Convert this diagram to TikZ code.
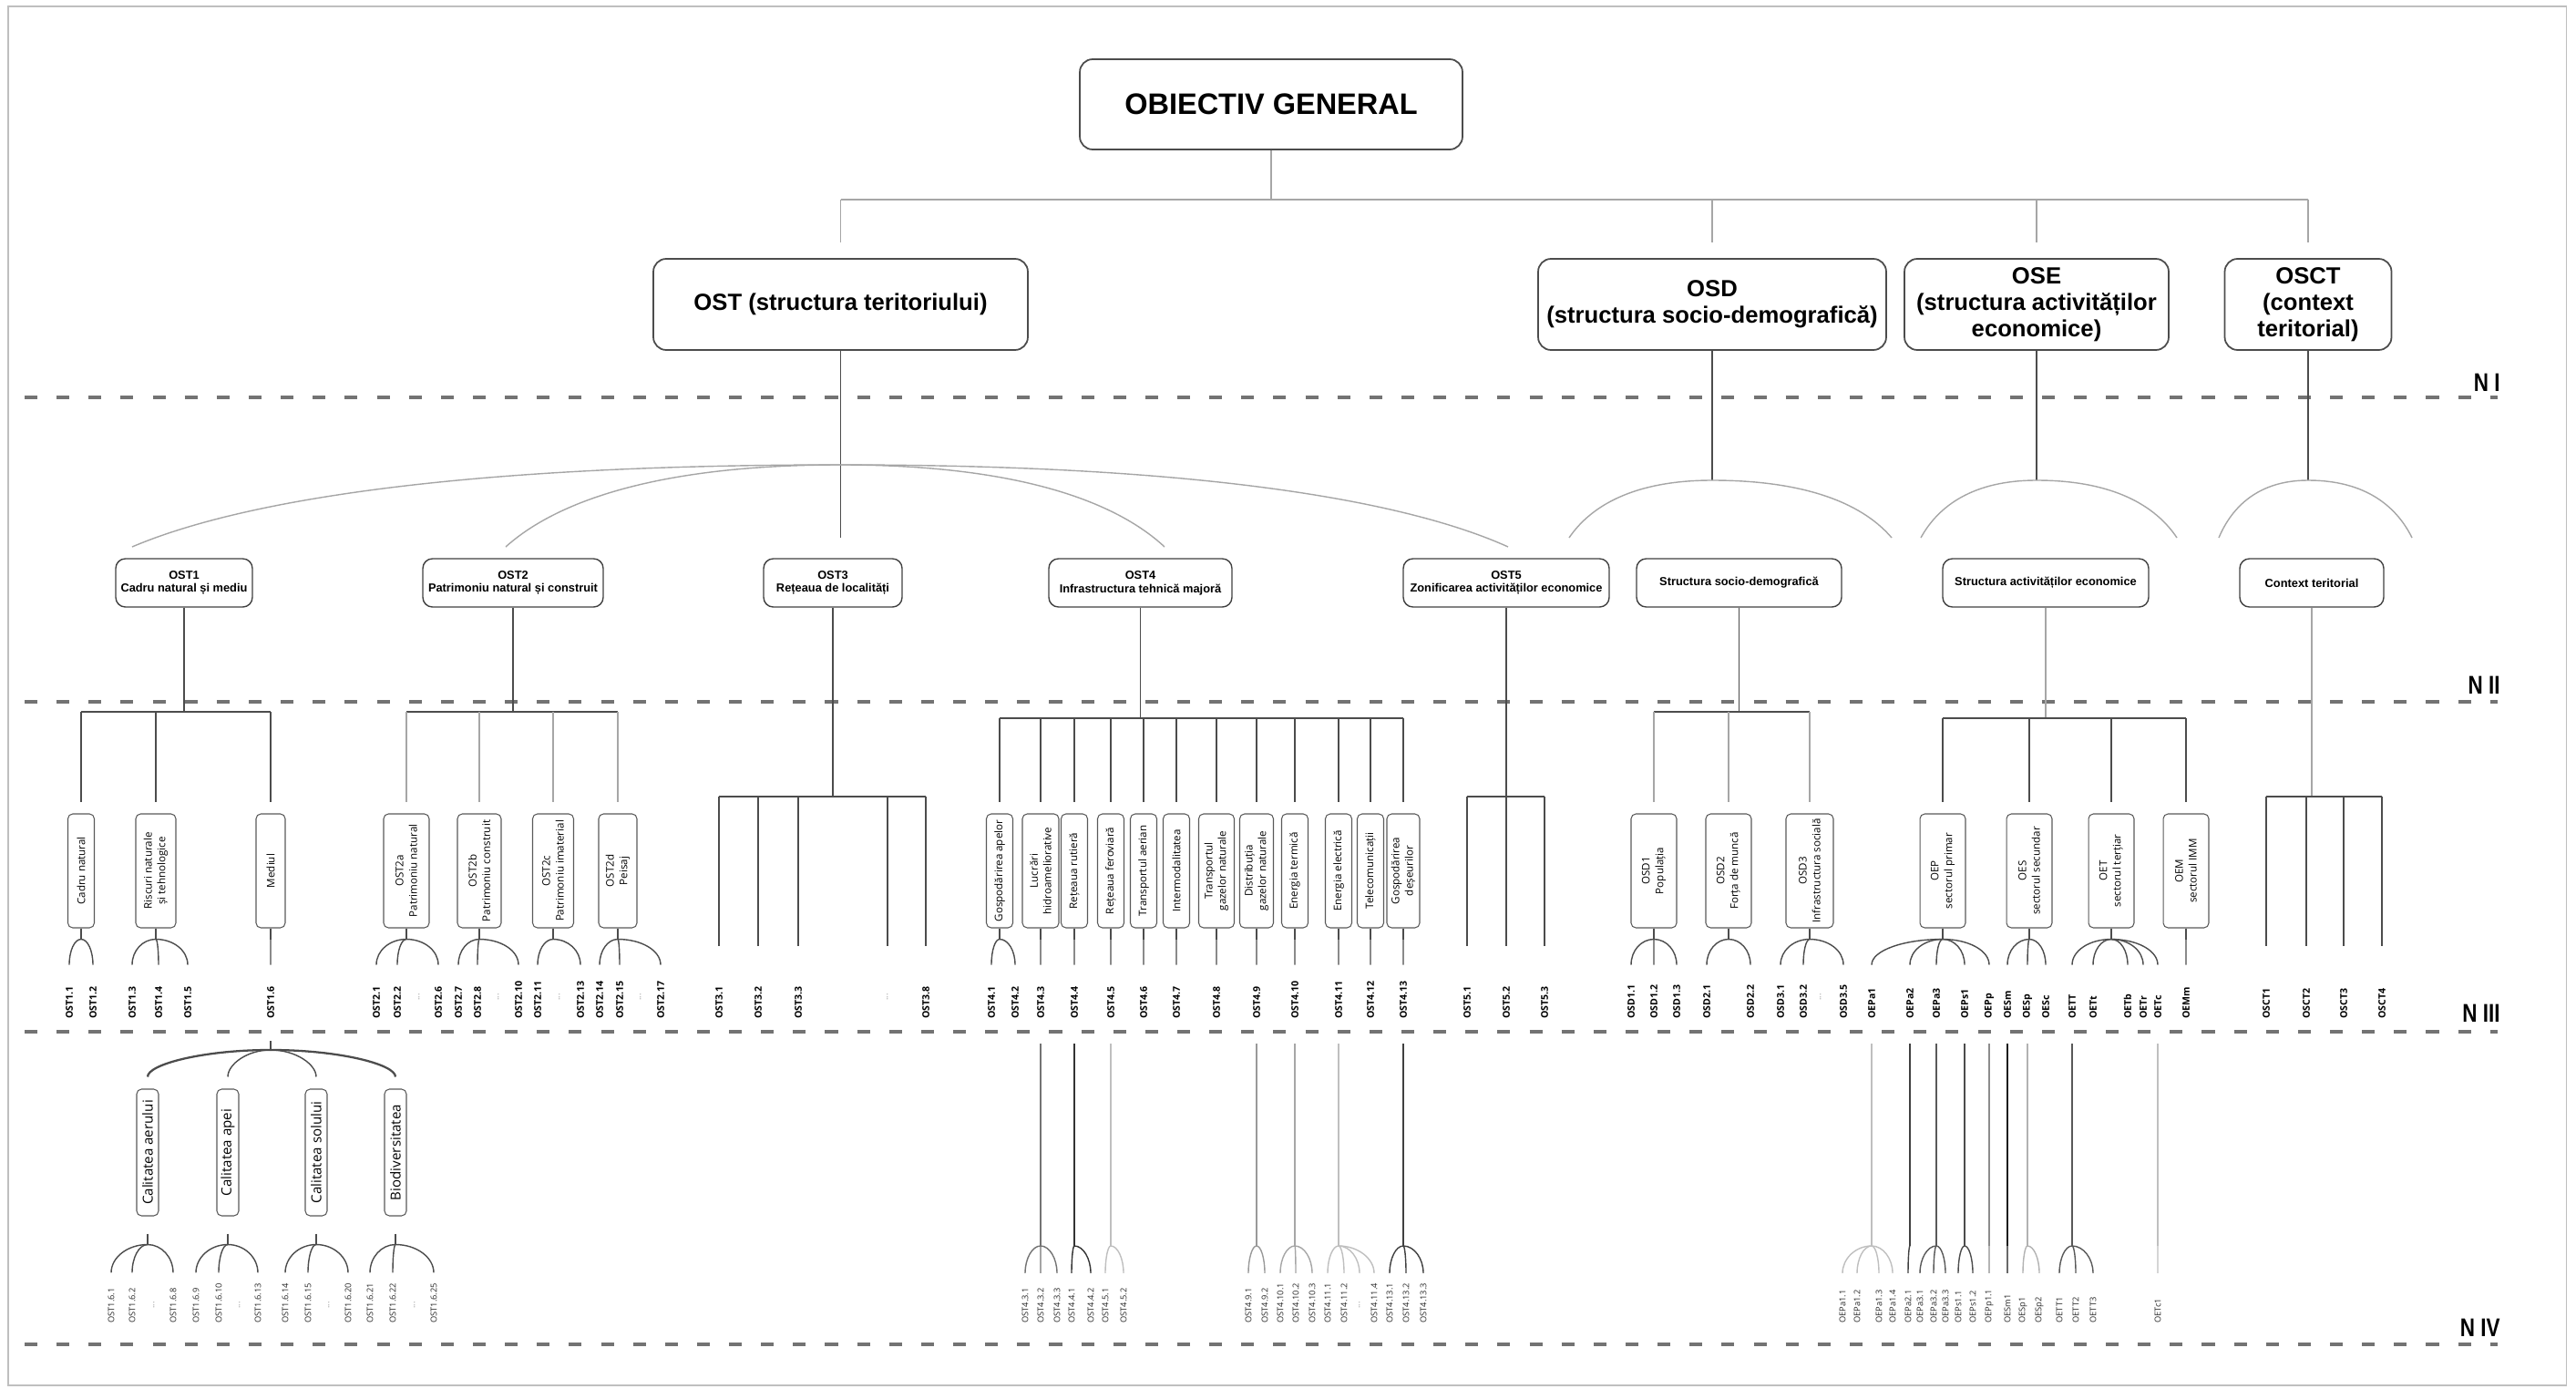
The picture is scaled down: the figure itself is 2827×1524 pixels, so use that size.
\documentclass[tikz,border=0pt]{standalone}
\usepackage{fontspec}
\setmainfont{Open Sans}
\newfontfamily\arialf{Liberation Sans}
\newfontfamily\narrowf[FakeStretch=0.8]{Liberation Sans}
\usetikzlibrary{calc}
\begin{document}
\begin{tikzpicture}[x=0.02cm,y=0.02cm,
  link/.style={draw=black!70,line width=0.8pt},
  faint/.style={draw=black!35,line width=0.8pt},
  levline/.style={draw=black!55,line width=2.3pt,dash pattern=on 8pt off 12pt},
  ogbox/.style={draw=black!70,line width=1pt,rounded corners=8pt,minimum width=8.4cm,minimum height=1.98cm,font=\arialf\bfseries\fontsize{18.5}{21}\selectfont},
  onebox/.style={draw=black!70,line width=1pt,rounded corners=8pt,align=center,inner sep=1pt,minimum height=2cm,font=\arialf\bfseries\fontsize{14.6}{16.5}\selectfont},
  twobox/.style={draw=black!75,line width=0.8pt,rounded corners=6pt,align=center,inner sep=1pt,minimum height=1.06cm,font=\arialf\bfseries\fontsize{7.3}{8.5}\selectfont},
  threebox/.style={draw=black!65,line width=0.6pt,rounded corners=3pt,rotate=90,align=center,inner sep=1pt,minimum width=2.5cm,minimum height=0.58cm,font=\fontsize{6.6}{8.5}\selectfont},
  fourbox/.style={draw=black!65,line width=0.6pt,rounded corners=3pt,rotate=90,inner sep=1pt,minimum width=2.78cm,minimum height=0.48cm,font=\fontsize{8.6}{10}\selectfont},
  labthree/.style={rotate=90,anchor=west,inner sep=0pt,font=\bfseries\fontsize{6}{7}\selectfont},
  labfour/.style={rotate=90,anchor=west,inner sep=0pt,text=black!85,font=\fontsize{5.3}{6}\selectfont},
  dotlab/.style={rotate=90,anchor=west,inner sep=0pt,text=black!50,font=\fontsize{5}{6}\selectfont},
  levlab/.style={anchor=east,inner sep=0pt,font=\narrowf\bfseries\fontsize{16}{18}\selectfont}]
\useasboundingbox (0,0) rectangle (2827,-1524);
\draw[draw=black!25,line width=0.6pt] (9,-7) rectangle (2816,-1520);
% levels
\draw[levline] (27,-436) -- (2741,-436);
\draw[levline] (27,-770) -- (2741,-770);
\draw[levline] (27,-1132) -- (2741,-1132);
\draw[levline] (27,-1475) -- (2741,-1475);
\node[levlab] (n1) at (2744,-420) {N I};
\node[levlab] (n2) at (2744,-752) {N II};
\node[levlab] (n3) at (2744,-1112) {N III};
\node[levlab] (n4) at (2744,-1457) {N IV};
\coordinate (ytop) at (0,-219);
\coordinate (yarc) at (0,-510);
\coordinate (ycap) at (0,-590);
\coordinate (ydome) at (0,-527);
\coordinate (ybara) at (0,-781);
\coordinate (ybarb) at (0,-788);
\coordinate (ybarc) at (0,-874);
\coordinate (yend) at (0,-1038);
% general objective and level I
\node[ogbox] (og) at (1395,-114.5) {OBIECTIV GENERAL};
\node[onebox,minimum width=8.22cm] (ost) at (922.5,-334) {OST (structura teritoriului)};
\node[onebox,minimum width=7.64cm] (osd) at (1879,-334) {OSD\\(structura socio-demografică)};
\node[onebox,minimum width=5.8cm] (ose) at (2235,-334) {OSE\\(structura activităților\\economice)};
\node[onebox,minimum width=3.66cm] (osct) at (2533,-334) {OSCT\\(context\\teritorial)};
\draw[faint] (og.south) -- (og.south |- ytop);
\draw[faint] (ost.north |- ytop) -- (osct.north |- ytop);
\foreach \bx in {ost,osd,ose,osct} \draw[faint] (\bx.north |- ytop) -- ([yshift=10pt]\bx.north);
% level II
\node[twobox,minimum width=3cm] (ost1) at (202,-639.5) {OST1\\Cadru natural și mediu};
\node[twobox,minimum width=3.96cm] (ost2) at (563,-639.5) {OST2\\Patrimoniu natural și construit};
\node[twobox,minimum width=3.04cm] (ost3) at (914,-639.5) {OST3\\Rețeaua de localități};
\node[twobox,minimum width=4.02cm] (ost4) at (1251.5,-639.5) {OST4\\Infrastructura tehnică majoră};
\node[twobox,minimum width=4.52cm] (ost5) at (1653,-639.5) {OST5\\Zonificarea activităților economice};
\node[twobox,minimum width=4.5cm] (ssd) at (1908.5,-639.5) {Structura socio-demografică};
\node[twobox,minimum width=4.52cm] (sae) at (2245,-639.5) {Structura activităților economice};
\node[twobox,minimum width=3.16cm] (ctx) at (2537,-639.5) {Context teritorial};
\draw[link] (ost.south) -- (ost.south |- ycap);
\coordinate (t-ost) at (ost.south |- yarc);
\foreach \bx in {osd,ose,osct} \draw[link] (\bx.south) -- (\bx.south |- ydome) coordinate (t-\bx);
\coordinate (a1) at (145,-600);
\coordinate (a2) at (555,-600);
\coordinate (a3) at (1278,-600);
\coordinate (a4) at (1655,-600);
\coordinate (k1) at (1722,-590);
\coordinate (k2) at (2076,-590);
\coordinate (k3) at (2108,-590);
\coordinate (k4) at (2389,-590);
\coordinate (k5) at (2435,-590);
\coordinate (k6) at (2647,-590);
\foreach \bx/\ep in {ost/a1,ost/a2,ost/a3,ost/a4,osd/k1,osd/k2,ose/k3,ose/k4,osct/k5,osct/k6}
  \draw[faint] let \p1=(t-\bx),\p2=(\ep) in (\p1) .. controls ({0.45*\x1+0.55*\x2},\y1) and ({0.85*\x2+0.15*\x1},{0.55*\y1+0.45*\y2}) .. (\p2);
% level III boxes
\node[threebox] (cadru) at (89,-955.5) {Cadru natural};
\node[threebox,minimum height=0.88cm] (riscuri) at (171,-955.5) {Riscuri naturale\\și tehnologice};
\node[threebox,minimum height=0.64cm] (mediul) at (297,-955.5) {Mediul};
\node[threebox,minimum height=1cm] (o2a) at (446,-955.5) {OST2a\\Patrimoniu natural};
\node[threebox,minimum height=0.96cm] (o2b) at (526,-955.5) {OST2b\\Patrimoniu construit};
\node[threebox,minimum height=0.9cm] (o2c) at (607,-955.5) {OST2c\\Patrimoniu imaterial};
\node[threebox,minimum height=0.84cm] (o2d) at (678,-955.5) {OST2d\\Peisaj};
\node[threebox] (apa) at (1097,-955.5) {Gospodărirea apelor};
\node[threebox,minimum height=0.8cm] (lucrari) at (1142,-955.5) {Lucrări\\hidroameliorative};
\node[threebox] (rutier) at (1179,-955.5) {Rețeaua rutieră};
\node[threebox] (feroviar) at (1219,-955.5) {Rețeaua feroviară};
\node[threebox] (aerian) at (1255,-955.5) {Transportul aerian};
\node[threebox] (intermod) at (1291,-955.5) {Intermodalitatea};
\node[threebox,minimum height=0.78cm] (gaztr) at (1335,-955.5) {Transportul\\gazelor naturale};
\node[threebox,minimum height=0.74cm] (gazdist) at (1379,-955.5) {Distribuția\\gazelor naturale};
\node[threebox] (termic) at (1421,-955.5) {Energia termică};
\node[threebox] (electric) at (1469,-955.5) {Energia electrică};
\node[threebox] (telecom) at (1504,-955.5) {Telecomunicații};
\node[threebox,minimum height=0.72cm] (deseuri) at (1540,-955.5) {Gospodărirea\\deșeurilor};
\node[threebox,minimum height=1cm] (osd1) at (1815,-955.5) {OSD1\\Populația};
\node[threebox,minimum height=1cm] (osd2) at (1897,-955.5) {OSD2\\Forța de muncă};
\node[threebox,minimum height=1.04cm] (osd3) at (1986,-955.5) {OSD3\\Infrastructura socială};
\node[threebox,minimum height=1cm] (oep) at (2132,-955.5) {OEP\\sectorul primar};
\node[threebox,minimum height=1cm] (oes) at (2227,-955.5) {OES\\sectorul secundar};
\node[threebox,minimum height=1cm] (oet) at (2317,-955.5) {OET\\sectorul terțiar};
\node[threebox,minimum height=1cm] (oem) at (2399,-955.5) {OEM\\sectorul IMM};
% level III codes
\foreach \nm/\xx/\txt in {l11/76/OST1.1,l12/102/OST1.2,l13/145/OST1.3,l14/174/OST1.4,l15/206/OST1.5,l16/297/OST1.6,
  l21/413/OST2.1,l22/436/OST2.2,l26/481/OST2.6,l27/503/OST2.7,l28/524/OST2.8,l210/569/OST2.10,l211/590/OST2.11,l213/637/OST2.13,l214/658/OST2.14,l215/680/OST2.15,l217/725/OST2.17,
  l31/789/OST3.1,l32/832/OST3.2,l33/876/OST3.3,l38/1016/OST3.8,
  l41/1088/OST4.1,l42/1114/OST4.2,l43/1142/OST4.3,l44/1179/OST4.4,l45/1219/OST4.5,l46/1255/OST4.6,l47/1291/OST4.7,l48/1335/OST4.8,l49/1379/OST4.9,l410/1421/OST4.10,l411/1469/OST4.11,l412/1504/OST4.12,l413/1540/OST4.13,
  l51/1610/OST5.1,l52/1653/OST5.2,l53/1695/OST5.3,
  s11/1790/OSD1.1,s12/1815/OSD1.2,s13/1840/OSD1.3,s21/1873/OSD2.1,s22/1921/OSD2.2,s31/1954/OSD3.1,s32/1979/OSD3.2,s35/2023/OSD3.5,
  ea1/2054/OEPa1,ea2/2096/OEPa2,ea3/2125/OEPa3,es1/2156/OEPs1,epp/2183/OEPp,esm/2203/OESm,esp/2225/OESp,esc/2245/OESc,
  ett/2274/OETT,etl/2297/OETt,etb/2335/OETb,etr/2352/OETr,etc/2368/OETc,emm/2399/OEMm,
  c1/2487/OSCT1,c2/2531/OSCT2,c3/2572/OSCT3,c4/2614/OSCT4}
  \node[labthree] (\nm) at (\xx,-1118) {\txt};
\foreach \nm/\xx in {d2a/460,d2b/547,d2c/614,d2d/703,d3/974,dsd/1998}
  \node[dotlab] (\nm) at (\xx,-1098) {...};
% level II to level III
\draw[link] (ost1.south) -- (ost1.south |- ybara);
\draw[link] (cadru.east |- ybara) -- (mediul.east |- ybara);
\foreach \bx in {cadru,riscuri,mediul} \draw[link] (\bx.east |- ybara) -- ([yshift=7pt]\bx.east);
\draw[link] (ost2.south) -- (ost2.south |- ybara);
\draw[link] (o2a.east |- ybara) -- (o2d.east |- ybara);
\foreach \bx in {o2a,o2b,o2c,o2d} \draw[faint] (\bx.east |- ybara) -- ([yshift=7pt]\bx.east);
\draw[link] (ost3.south) -- (ost3.south |- ybarc);
\draw[link] (l31.west |- ybarc) -- (l38.west |- ybarc);
\foreach \lb in {l31,l32,l33,d3,l38} \draw[link] (\lb.west |- ybarc) -- (\lb.west |- yend);
\draw[link] (ost4.south) -- (ost4.south |- ybarb);
\draw[link] (apa.east |- ybarb) -- (deseuri.east |- ybarb);
\foreach \bx in {apa,lucrari,rutier,feroviar,aerian,intermod,gaztr,gazdist,termic,electric,telecom,deseuri} \draw[link] (\bx.east |- ybarb) -- ([yshift=7pt]\bx.east);
\draw[link] (ost5.south) -- (ost5.south |- ybarc);
\draw[link] (l51.west |- ybarc) -- (l53.west |- ybarc);
\foreach \lb in {l51,l52,l53} \draw[link] (\lb.west |- ybarc) -- (\lb.west |- yend);
\draw[link] (ssd.south) -- (ssd.south |- ybara);
\draw[link] (osd1.east |- ybara) -- (osd3.east |- ybara);
\foreach \bx in {osd1,osd2,osd3} \draw[faint] (\bx.east |- ybara) -- ([yshift=7pt]\bx.east);
\draw[faint] (sae.south) -- (sae.south |- ybarb);
\draw[link] (oep.east |- ybarb) -- (oem.east |- ybarb);
\foreach \bx in {oep,oes,oet,oem} \draw[link] (\bx.east |- ybarb) -- ([yshift=7pt]\bx.east);
\draw[faint] (ctx.south) -- (ctx.south |- ybarc);
\draw[link] (c1.west |- ybarc) -- (c4.west |- ybarc);
\foreach \lb in {c1,c2,c3,c4} \draw[link] (\lb.west |- ybarc) -- (\lb.west |- yend);
% level III boxes to codes
\foreach \bx/\lst in {cadru/{l11,l12},riscuri/{l13,l14,l15},mediul/{l16},o2a/{l21,l22,l26},o2b/{l27,l28,l210},o2c/{l211,l213},o2d/{l214,l215,l217},
  apa/{l41,l42},lucrari/{l43},rutier/{l44},feroviar/{l45},aerian/{l46},intermod/{l47},gaztr/{l48},gazdist/{l49},termic/{l410},electric/{l411},telecom/{l412},deseuri/{l413},
  osd1/{s11,s12,s13},osd2/{s21,s22},osd3/{s31,s32,s35},oep/{ea1,ea2,ea3,es1,epp},oes/{esm,esp,esc},oet/{ett,etl,etb,etr,etc},oem/{emm}} {
  \draw[link] (\bx.west) -- ++(0,-12) coordinate (t-\bx);
  \foreach \lb in \lst
    \draw[link] let \p1=(t-\bx),\p2=(\lb.west) in (\p1) .. controls ({0.45*\x1+0.55*\x2},\y1) and (\x2,{\y1-7pt}) .. (\x2,{\y1-16pt});
}
% level IV
\node[fourbox] (aer) at (162,-1264.5) {Calitatea aerului};
\node[fourbox] (apa4) at (250,-1264.5) {Calitatea apei};
\node[fourbox] (sol) at (347,-1264.5) {Calitatea solului};
\node[fourbox] (bio) at (434,-1264.5) {Biodiversitatea};
\foreach \nm/\xx/\txt in {q1/122/OST1.6.1,q2/145/OST1.6.2,q8/190/OST1.6.8,q9/215/OST1.6.9,q10/240/OST1.6.10,q13/283/OST1.6.13,q14/313/OST1.6.14,q15/338/OST1.6.15,q20/382/OST1.6.20,q21/406/OST1.6.21,q22/431/OST1.6.22,q25/476/OST1.6.25,
  m431/1125/OST4.3.1,m432/1142/OST4.3.2,m433/1160/OST4.3.3,m441/1176/OST4.4.1,m442/1197/OST4.4.2,m451/1213/OST4.5.1,m452/1233/OST4.5.2,
  m491/1370/OST4.9.1,m492/1388/OST4.9.2,m4101/1405/OST4.10.1,m4102/1422/OST4.10.2,m4103/1440/OST4.10.3,m4111/1457/OST4.11.1,m4112/1475/OST4.11.2,m4114/1508/OST4.11.4,m4131/1525/OST4.13.1,m4132/1543/OST4.13.2,m4133/1562/OST4.13.3,
  p11/2022/OEPa1.1,p12/2038/OEPa1.2,p13/2062/OEPa1.3,p14/2077/OEPa1.4,p21/2094/OEPa2.1,p31/2107/OEPa3.1,p32/2122/OEPa3.2,p33/2135/OEPa3.3,ps1/2149/OEPs1.1,ps2/2165/OEPs1.2,pp1/2183/OEPp1.1,
  sm1/2203/OESm1,sp1/2220/OESp1,sp2/2238/OESp2,tt1/2260/OETT1,tt2/2278/OETT2,tt3/2297/OETT3,tc1/2368/OETc1}
  \node[labfour] (\nm) at (\xx,-1452) {\txt};
\foreach \nm/\xx in {dq1/169,dq2/263,dq3/361,dq4/455,dm/1492}
  \node[dotlab] (\nm) at (\xx,-1436) {...};
\draw[link,line width=1.6pt] (l16.west) ++(0,-24) -- ++(0,-10) coordinate (t-l16);
\foreach \bx/\lw in {aer/1.3pt,apa4/0.8pt,sol/0.8pt,bio/1.3pt}
  \draw[link,line width=\lw] let \p1=(t-l16),\p2=(\bx.east) in (\p1) .. controls ({0.45*\x1+0.55*\x2},\y1) and (\x2,{\y1-9pt}) .. (\x2,{\y2+7.4pt});
\foreach \bx/\lst in {aer/{q1,q2,q8},apa4/{q9,q10,q13},sol/{q14,q15,q20},bio/{q21,q22,q25}} {
  \draw[link] (\bx.west) ++(0,-19) -- ++(0,-12) coordinate (t-\bx);
  \foreach \lb in \lst
    \draw[link] let \p1=(t-\bx),\p2=(\lb.west) in (\p1) .. controls ({0.45*\x1+0.55*\x2},\y1) and (\x2,{\y1-8pt}) .. (\x2,{\y1-17.6pt});
}
\foreach \ap/\cl/\lst in {l43/black!55/{m431,m432,m433},l44/black!80/{m441,m442},l45/black!25/{m451,m452},l49/black!40/{m491,m492},l410/black!35/{m4101,m4102,m4103},l411/black!25/{m4111,m4112,dm,m4114},l413/black!75/{m4131,m4132,m4133},
  ea1/black!25/{p11,p12,p13,p14},ea2/black!75/{p21},ea3/black!65/{p31,p32,p33},es1/black!70/{ps1,ps2},epp/black!45/{pp1},esm/black!90/{sm1},esp/black!30/{sp1,sp2},ett/black!65/{tt1,tt2,tt3},etc/black!25/{tc1}} {
  \draw[link,draw=\cl] (\ap.west) ++(0,-27) -- ++(0,-222) coordinate (t-\ap);
  \foreach \lb in \lst
    \draw[link,draw=\cl] let \p1=(t-\ap),\p2=(\lb.west) in (\p1) .. controls ({0.45*\x1+0.55*\x2},\y1) and (\x2,{\y1-8pt}) .. (\x2,{\y1-17pt});
}
\end{tikzpicture}
\end{document}
